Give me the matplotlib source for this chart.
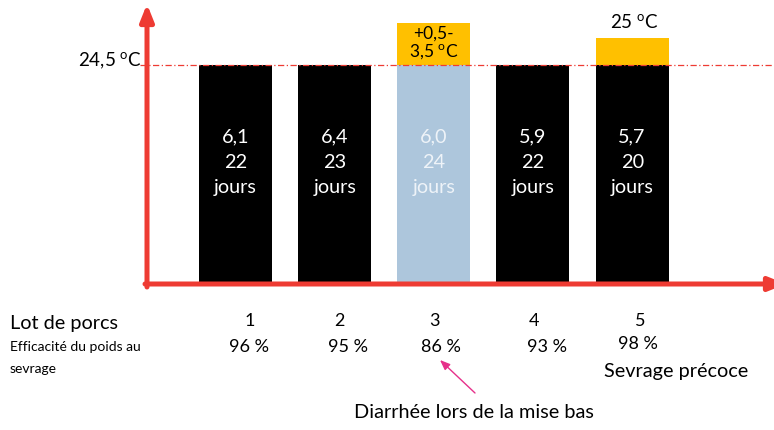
import matplotlib
matplotlib.use("Agg")
import matplotlib.pyplot as plt

plt.rcParams['font.family'] = ['Lato', 'DejaVu Sans']
plt.rcParams['mathtext.fontset'] = 'custom'
plt.rcParams['mathtext.rm'] = 'Lato'

# ---- data ----
lots = ["1", "2", "3", "4", "5"]
efficiency = ["96 %", "95 %", "86 %", "93 %", "98 %"]
weights = ["6,1", "6,4", "6,0", "5,9", "5,7"]
days = ["22", "23", "24", "22", "20"]
base_temp = [24.5, 24.5, 24.5, 24.5, 24.5]
extra_temp = [0, 0, 4.7, 0, 3.0]          # drawn height of the orange increments
extra_labels = ["", "", "+0,5-\n3,5 $\\mathregular{^{o}}$C", "", "25 $\\mathregular{^{o}}$C"]
ref_label = "24,5 $\\mathregular{^{o}}$C"

RED = "#EE3B33"
BLACK = "#000000"
BLUE = "#ADC6DC"
ORANGE = "#FFC000"
bar_colors = [BLACK, BLACK, BLUE, BLACK, BLACK]
text_colors = ["white", "white", "#EEF3F8", "white", "white"]

W, H = 774, 430
fig = plt.figure(figsize=(W / 100, H / 100), dpi=100)
ax = fig.add_axes([0, 0, 1, 1])
ax.axis("off")

# pixel mapping for layout: x -> category index, y -> temperature-like units
x0_px, dx_px = 235.5, 99.15
y0_px, dy_px = 284.0, 219.0 / 24.5
ax.set_xlim((0 - x0_px) / dx_px, (W - x0_px) / dx_px)
ax.set_ylim((y0_px - H) / dy_px, y0_px / dy_px)

def px(xp, yp):
    return ((xp - x0_px) / dx_px, (y0_px - yp) / dy_px)

xs = list(range(len(lots)))
bw = 73 / dx_px
ax.bar(xs, base_temp, width=bw, color=bar_colors, zorder=2)
ax.bar(xs, extra_temp, bottom=base_temp, width=bw, color=ORANGE, zorder=2)

# reference dotted line
xl, _ = px(140, 0)
xr, _ = px(774, 0)
ax.plot([xl, xr], [24.5, 24.5], color=RED, lw=0.9, ls=(0, (5, 2, 1, 2)), zorder=3)

# axes arrows
arrow_kw = dict(arrowstyle="-|>,head_length=0.5,head_width=0.2",
                color=RED, lw=3.6, shrinkA=0, shrinkB=0, mutation_scale=20)
ax_x, _ = px(147, 0)
_, ytop = px(0, 4)
_, ybot = px(0, 287)
ax.annotate("", xy=(ax_x, ytop), xytext=(ax_x, ybot), arrowprops=arrow_kw,
            annotation_clip=False, zorder=4)
hx0, _ = px(145, 0)
hx1, _ = px(786, 0)
ax.annotate("", xy=(hx1, 0), xytext=(hx0, 0), arrowprops=arrow_kw,
            annotation_clip=False, zorder=4)

# text in bars
for i in xs:
    for s, yp in [(weights[i], 137), (days[i], 162), ("jours", 187)]:
        ax.text(i, px(0, yp)[1], s, color=text_colors[i], ha="center", va="center",
                fontsize=14.3, zorder=5)

# orange labels
ax.text(2, px(0, 43)[1], extra_labels[2], ha="center", va="center", fontsize=12.5,
        linespacing=1.05, color="black", zorder=5)
ax.text(4 + 2 / dx_px, px(0, 22)[1], extra_labels[4], ha="center", va="center",
        fontsize=13.5, color="black", zorder=5)

# reference label
ax.text(*px(142, 61), ref_label, ha="right", va="center", fontsize=13.5, zorder=5)

# bottom labels
ax.text(*px(10, 323), "Lot de porcs", ha="left", va="center", fontsize=14.3)
ax.text(*px(10, 347), "Efficacité du poids au", ha="left", va="center", fontsize=10)
ax.text(*px(10, 369), "sevrage", ha="left", va="center", fontsize=10)

lot_px = [250, 339, 434, 534, 640]
eff_px = [249, 348, 441, 547, 638]
eff_y = [347, 347, 347, 347, 344]
for i in xs:
    ax.text(*px(lot_px[i], 321), lots[i], ha="center", va="center", fontsize=13)
    ax.text(*px(eff_px[i], eff_y[i]), efficiency[i], ha="center", va="center", fontsize=13)

ax.text(*px(676, 372), "Sevrage précoce", ha="center", va="center", fontsize=14.3)
ax.text(*px(474, 412), "Diarrhée lors de la mise bas", ha="center", va="center", fontsize=14.3)
ax.annotate("", xy=px(440, 360), xytext=px(475, 393),
            arrowprops=dict(arrowstyle="-|>,head_length=0.5,head_width=0.2",
                            color="#E6308A", lw=1.0, shrinkA=0, shrinkB=0, mutation_scale=12))

fig.savefig("out.png", dpi=100)
